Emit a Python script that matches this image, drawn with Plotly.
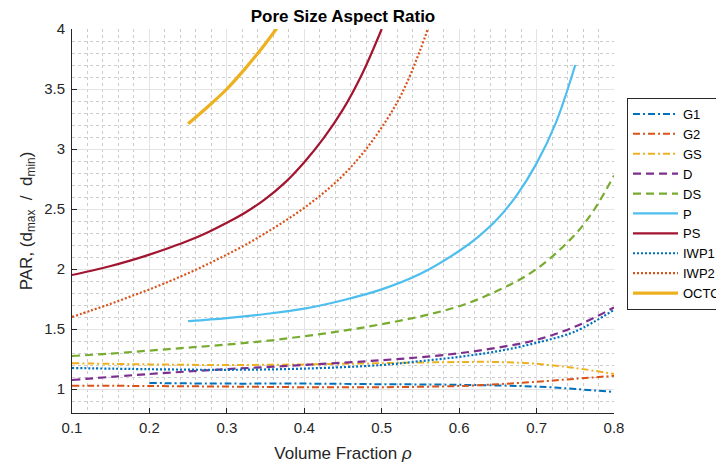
import plotly.graph_objects as go

# ---- data ----
g1_x = [0.2, 0.3, 0.4, 0.5, 0.6, 0.7, 0.75, 0.8]
g1_y = [1.05, 1.045, 1.045, 1.04, 1.035, 1.02, 1.0, 0.975]

g2_x = [0.1, 0.2, 0.3, 0.4, 0.5, 0.6, 0.65, 0.7, 0.75, 0.8]
g2_y = [1.028, 1.025, 1.02, 1.015, 1.015, 1.025, 1.04, 1.06, 1.085, 1.11]

gs_x = [0.1, 0.2, 0.3, 0.4, 0.5, 0.6, 0.65, 0.7, 0.75, 0.8]
gs_y = [1.215, 1.205, 1.2, 1.205, 1.215, 1.225, 1.225, 1.21, 1.175, 1.125]

d_x = [0.1, 0.2, 0.3, 0.4, 0.5, 0.55, 0.6, 0.65, 0.7, 0.75, 0.8]
d_y = [1.075, 1.125, 1.165, 1.2, 1.24, 1.265, 1.298, 1.345, 1.41, 1.52, 1.68]

ds_x = [0.1, 0.15, 0.2, 0.25, 0.3, 0.35, 0.4, 0.45, 0.5, 0.55, 0.6, 0.65, 0.7, 0.75, 0.775, 0.8]
ds_y = [1.275, 1.295, 1.32, 1.345, 1.37, 1.40, 1.44, 1.485, 1.54, 1.605, 1.69, 1.82, 2.0, 2.29, 2.5, 2.78]

p_x = [0.25, 0.3, 0.35, 0.4, 0.45, 0.5, 0.55, 0.6, 0.625, 0.65, 0.675, 0.7, 0.725, 0.75]
p_y = [1.565, 1.59, 1.625, 1.67, 1.74, 1.83, 1.96, 2.15, 2.27, 2.42, 2.62, 2.88, 3.22, 3.7]

ps_x = [0.1, 0.125, 0.15, 0.175, 0.2, 0.225, 0.25, 0.275, 0.3, 0.325, 0.35, 0.375, 0.4, 0.425, 0.45, 0.475, 0.5]
ps_y = [1.95, 1.985, 2.025, 2.07, 2.12, 2.175, 2.235, 2.305, 2.385, 2.475, 2.585, 2.72, 2.89, 3.09, 3.33, 3.63, 4.0]

iwp1_x = [0.1, 0.2, 0.3, 0.4, 0.5, 0.55, 0.6, 0.65, 0.7, 0.75, 0.8]
iwp1_y = [1.175, 1.165, 1.16, 1.17, 1.2, 1.232, 1.268, 1.315, 1.385, 1.48, 1.66]

iwp2_x = [0.1, 0.125, 0.15, 0.175, 0.2, 0.225, 0.25, 0.275, 0.3, 0.325, 0.35, 0.375, 0.4, 0.425, 0.45, 0.475, 0.5, 0.525, 0.55, 0.575]
iwp2_y = [1.6, 1.655, 1.71, 1.77, 1.83, 1.895, 1.965, 2.04, 2.12, 2.205, 2.3, 2.4, 2.51, 2.635, 2.78, 2.96, 3.18, 3.45, 3.83, 4.3]

octo_x = [0.25, 0.275, 0.3, 0.325, 0.35, 0.375]
octo_y = [3.21, 3.35, 3.5, 3.68, 3.88, 4.1]

x_ticks = [0.1, 0.2, 0.3, 0.4, 0.5, 0.6, 0.7, 0.8]
y_ticks = [1, 1.5, 2, 2.5, 3, 3.5, 4]

# ---- styling ----
DASHDOT = "7px,3px,2px,3px"
DASH = "8px,5px"
DOT = "2px,2px"

series = [
    ("G1", g1_x, g1_y, "#0072BD", DASHDOT, 2),
    ("G2", g2_x, g2_y, "#D95319", DASHDOT, 2),
    ("GS", gs_x, gs_y, "#EDB120", DASHDOT, 2),
    ("D", d_x, d_y, "#7E2F8E", DASH, 2.2),
    ("DS", ds_x, ds_y, "#77AC30", DASH, 2.2),
    ("P", p_x, p_y, "#4DBEEE", "solid", 2.2),
    ("PS", ps_x, ps_y, "#A2142F", "solid", 2.2),
    ("IWP1", iwp1_x, iwp1_y, "#0072BD", DOT, 2.2),
    ("IWP2", iwp2_x, iwp2_y, "#D95319", DOT, 2.2),
    ("OCTO", octo_x, octo_y, "#EDB120", "solid", 3.2),
]

FONT = "Liberation Sans, Arial, Helvetica, sans-serif"
fig = go.Figure()
for name, xs, ys, color, dash, w in series:
    fig.add_trace(go.Scatter(
        x=xs, y=ys, name=name, mode="lines",
        line=dict(color=color, dash=dash, width=w, shape="spline", smoothing=1.0),
    ))

axis_common = dict(
    showline=True, linecolor="#262626", linewidth=1,
    ticks="inside", ticklen=5, tickcolor="#262626", tickwidth=1,
    showgrid=True, gridcolor="#e3e3e3", gridwidth=1,
    zeroline=False, mirror=False,
    tickfont=dict(family=FONT, size=15, color="#262626"),
)

# page body has an 8px offset, so the figure is sized/margined to compensate
W, H = 716, 459
L, T, R, B = 64, 21, 110, 54
plot_w = W - L - R
plot_h = H - T - B

fig.update_layout(
    width=W, height=H,
    margin=dict(l=L, r=R, t=T, b=B, autoexpand=False),
    paper_bgcolor="white", plot_bgcolor="white",
    font=dict(family=FONT, color="#262626"),
    title=dict(text="<b>Pore Size Aspect Ratio</b>", x=0.5, xref="paper", xanchor="center",
               y=1 - 8 / H, yanchor="middle",
               font=dict(family=FONT, size=17, color="#000000")),
    xaxis=dict(
        range=[0.1, 0.8], tickvals=x_ticks, ticktext=[f"{v:g}" for v in x_ticks],
        ticklabelstandoff=1,
        minor=dict(dtick=0.02, tick0=0.1, showgrid=True, griddash="dot", gridcolor="#cccccc", gridwidth=1, ticklen=0),
        title=dict(text="Volume Fraction <i>ρ</i>", standoff=12, font=dict(family=FONT, size=17, color="#262626")),
        **axis_common,
    ),
    yaxis=dict(
        range=[0.8, 4], tickvals=y_ticks, ticktext=[f"{v:g}" for v in y_ticks],
        ticklabelstandoff=3,
        minor=dict(dtick=0.1, tick0=0.8, showgrid=True, griddash="dot", gridcolor="#cccccc", gridwidth=1, ticklen=0),
        title=dict(text="PAR, (d<sub>max</sub>  /  d<sub>min</sub>)", standoff=7, font=dict(family=FONT, size=17, color="#262626")),
        **axis_common,
    ),
    legend=dict(
        x=(619 - L) / plot_w, y=(H - B - 90) / plot_h, xanchor="left", yanchor="top",
        bgcolor="white", bordercolor="#262626", borderwidth=1,
        font=dict(family=FONT, size=13, color="#000000"),
        itemwidth=45, tracegroupgap=0,
    ),
    showlegend=True,
)

fig.write_html("out.html")
